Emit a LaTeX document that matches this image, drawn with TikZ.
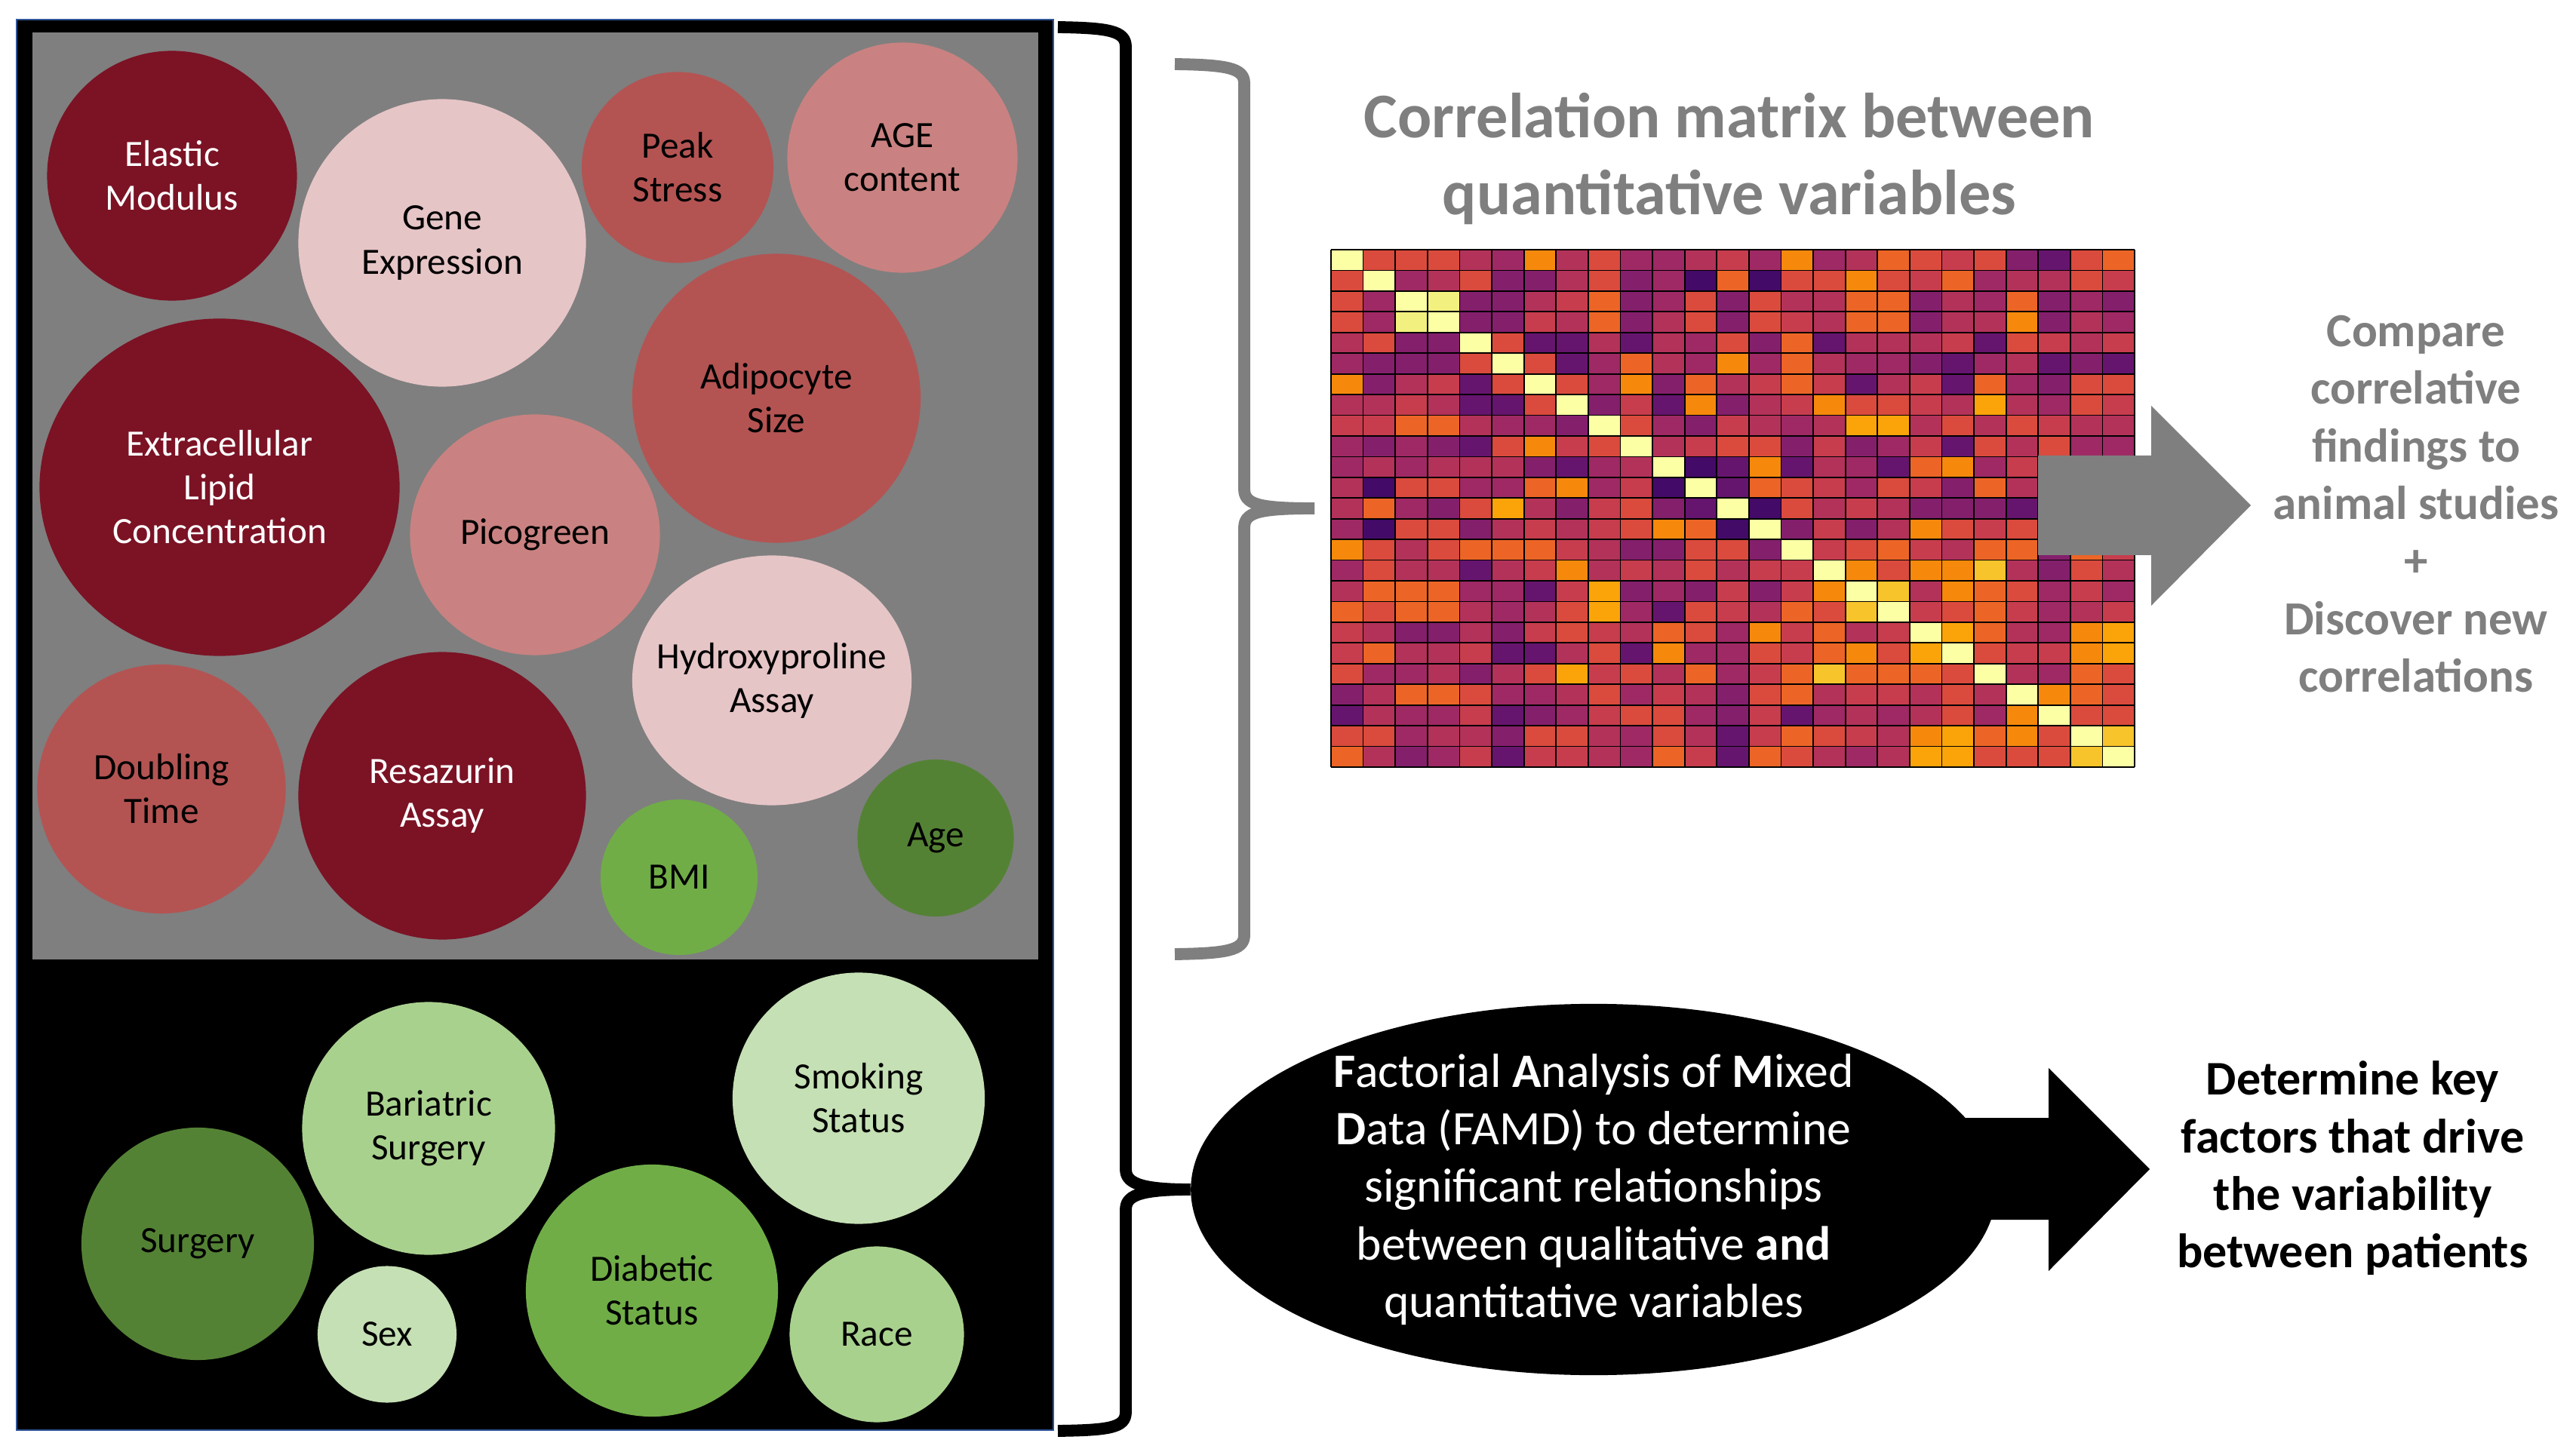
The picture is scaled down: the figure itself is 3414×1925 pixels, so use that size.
\documentclass[tikz,border=0pt]{standalone}
\usepackage{fontspec}
\setmainfont{Carlito}
\definecolor{BordeauxProfond}{HTML}{7B1325}
\definecolor{RoseClair}{HTML}{E6C5C7}
\definecolor{RoseMoyen}{HTML}{C98281}
\definecolor{RougeBrique}{HTML}{B35453}
\definecolor{VertFonce}{HTML}{548235}
\definecolor{VertMoyen}{HTML}{70AD47}
\definecolor{VertClair}{HTML}{A9D18E}
\definecolor{VertPale}{HTML}{C5E0B4}
\definecolor{GrisPanneau}{HTML}{7F7F7F}
\definecolor{BleuBord}{HTML}{2F5597}
% carte de couleurs (type inferno)
\definecolor{CarteY}{HTML}{FCFFA4}
\definecolor{Cartey}{HTML}{F2F07F}
\definecolor{Carteg}{HTML}{F8C42B}
\definecolor{Cartea}{HTML}{FBA40A}
\definecolor{Carteo}{HTML}{F6890C}
\definecolor{Carted}{HTML}{EC6526}
\definecolor{Cartee}{HTML}{DA4B3D}
\definecolor{Carter}{HTML}{C73D4D}
\definecolor{Cartec}{HTML}{B3325A}
\definecolor{Cartem}{HTML}{9E2964}
\definecolor{Cartep}{HTML}{841F6C}
\definecolor{Carteq}{HTML}{66156E}
\definecolor{Cartev}{HTML}{430A68}
\usetikzlibrary{shapes.geometric}
\tikzset{
	bulle/.style={ellipse, inner sep=-0.5cm, align=center, text=black,
		font=\fontsize{14}{16.5}\selectfont},
	bordeaux/.style={bulle, fill=BordeauxProfond, text=white},
	accolade/.style={line width=4.5pt, line join=round},
	titre/.style={align=center, text=GrisPanneau,
		font=\bfseries\fontsize{24}{29}\selectfont},
	texteGris/.style={align=center, text=GrisPanneau,
		font=\bfseries\fontsize{17.9}{21.7}\selectfont},
	texteNoir/.style={align=center, text=black,
		font=\bfseries\fontsize{18.2}{21.7}\selectfont},
	famd/.style={ellipse, fill=black, text=white, inner sep=-0.5cm, align=center,
		font=\fontsize{18.1}{21.7}\selectfont}
}
\begin{document}
\begin{tikzpicture}[x=0.01cm, y=-0.01cm]
    \fill[white] (0,0) rectangle (3414,1925);
    \useasboundingbox (0,0) rectangle (3414,1925);
    
    % Panneau des variables
    \fill[black] (22,26) rectangle (1396,1896);
    \draw[BleuBord, line width=0.8pt] (22,26) rectangle (1396,1896);
    \fill[GrisPanneau] (43,43) rectangle (1376,1272);
    
    % Variables quantitatives
    \node[bordeaux, minimum width=3.31cm, minimum height=3.31cm] (elastic) at (228,233) {Elastic\\Modulus};
    \node[bulle, fill=RoseClair, minimum width=3.81cm, minimum height=3.81cm] (gene) at (586,322) {Gene\\Expression};
    \node[bulle, fill=RougeBrique, minimum width=2.54cm, minimum height=2.53cm] (peak) at (898,222) {Peak\\Stress};
    \node[bulle, fill=RoseMoyen, minimum width=3.05cm, minimum height=3.05cm] (agecontent) at (1196,209) {AGE\\content};
    \node[bordeaux, minimum width=4.77cm, minimum height=4.47cm] (lipid) at (291,646) {Extracellular\\Lipid\\Concentration};
    \node[bulle, fill=RoseMoyen, minimum width=3.31cm, minimum height=3.19cm] (pico) at (709,709) {Picogreen};
    \node[bulle, fill=RougeBrique, minimum width=3.82cm, minimum height=3.83cm] (adipo) at (1029,528) {Adipocyte\\Size};
    \node[bulle, fill=RoseClair, minimum width=3.70cm, minimum height=3.31cm] (hydroxy) at (1023,902) {Hydroxyproline\\Assay};
    \node[bulle, fill=RougeBrique, minimum width=3.29cm, minimum height=3.30cm] (doubling) at (214,1046) {Doubling\\Time};
    \node[bordeaux, minimum width=3.81cm, minimum height=3.81cm] (resazurin) at (586,1055) {Resazurin\\Assay};
    \node[bulle, fill=VertMoyen, minimum width=2.08cm, minimum height=2.06cm] (bmi) at (900,1163) {BMI};
    \node[bulle, fill=VertFonce, minimum width=2.07cm, minimum height=2.08cm] (age) at (1240,1111) {Age};
    
    % Variables qualitatives
    \node[bulle, fill=VertFonce, minimum width=3.08cm, minimum height=3.08cm] (surgery) at (262,1649) {Surgery};
    \node[bulle, fill=VertClair, minimum width=3.35cm, minimum height=3.35cm] (bariatric) at (568,1496) {Bariatric\\Surgery};
    \node[bulle, fill=VertPale, minimum width=3.34cm, minimum height=3.33cm] (smoking) at (1138,1456) {Smoking\\Status};
    \node[bulle, fill=VertPale, minimum width=1.84cm, minimum height=1.81cm] (sex) at (513,1769) {Sex};
    \node[bulle, fill=VertMoyen, minimum width=3.34cm, minimum height=3.34cm] (diabetic) at (864,1711) {Diabetic\\Status};
    \node[bulle, fill=VertClair, minimum width=2.31cm, minimum height=2.33cm] (race) at (1162,1769) {Race};
    
    % Matrice de correlation
    \def\mx{1764}
    \def\my{331}
    \def\cw{42.6}
    \def\ch{27.44}
    \foreach \ligne [count=\i from 0] in {
        {Y,e,e,e,c,m,o,c,e,m,m,c,r,m,o,m,c,d,e,r,e,p,q,e,d},
        {e,Y,m,c,e,p,p,c,e,p,m,v,d,v,e,e,o,e,r,d,m,c,c,e,r},
        {e,m,Y,y,p,p,c,r,d,p,m,e,p,e,c,c,d,d,p,c,m,d,p,m,p},
        {e,m,y,Y,p,p,r,c,d,p,c,e,p,e,r,c,d,d,p,c,c,o,p,c,m},
        {c,e,p,p,Y,e,q,q,c,q,c,m,e,p,d,q,c,c,c,r,q,e,r,c,r},
        {m,p,p,p,e,Y,e,q,m,d,c,m,o,m,d,c,m,m,p,q,m,c,q,p,q},
        {o,p,c,r,q,e,Y,e,m,o,p,d,c,r,d,r,q,c,r,q,d,m,p,e,e},
        {c,c,r,c,q,q,e,Y,p,r,q,o,p,c,r,o,e,e,r,c,a,c,m,e,r},
        {r,r,d,d,c,m,m,p,Y,e,m,p,r,c,m,c,a,a,c,e,c,e,r,c,c},
        {m,p,m,p,q,e,o,r,e,Y,c,r,e,e,p,r,p,m,r,q,e,c,e,m,m},
        {m,c,m,c,c,c,p,q,m,c,Y,v,q,o,q,c,m,q,d,o,m,r,e,e,d},
        {c,v,e,e,m,m,d,o,m,r,v,Y,q,d,e,r,m,e,r,p,d,c,m,c,r},
        {c,d,m,p,e,a,c,p,r,e,p,q,Y,v,e,c,r,c,p,p,p,q,p,q,q},
        {m,v,e,e,p,c,r,c,r,e,o,d,v,Y,p,r,p,c,o,e,r,e,r,r,d},
        {o,e,c,e,d,d,d,r,c,p,p,e,e,p,Y,r,e,d,r,c,d,d,p,d,r},
        {m,e,c,c,q,c,r,o,c,r,c,e,c,r,r,Y,o,e,o,o,g,c,p,e,c},
        {c,d,d,d,m,m,q,r,a,p,m,p,r,p,r,o,Y,g,c,o,d,e,m,r,m},
        {d,e,d,d,c,m,c,e,a,m,q,e,r,c,d,e,g,Y,r,e,d,r,m,c,r},
        {r,c,p,p,c,p,r,e,r,c,d,e,m,o,r,d,c,r,Y,a,d,c,m,o,a},
        {r,d,c,c,r,q,q,c,e,q,o,m,m,e,r,d,o,e,a,Y,e,r,r,o,a},
        {e,m,m,c,p,c,e,a,r,e,c,d,m,r,d,g,d,d,d,e,Y,c,m,d,e},
        {p,c,d,d,e,m,m,c,e,m,r,c,p,e,d,c,r,r,c,e,c,Y,o,d,e},
        {q,c,m,m,r,q,p,m,r,e,e,m,p,r,q,m,c,m,c,e,m,o,Y,e,e},
        {e,e,m,c,c,p,e,e,c,m,e,c,q,r,d,e,r,c,o,a,d,o,e,Y,g},
        {d,c,p,m,r,q,r,r,c,m,d,r,q,d,e,c,m,c,a,a,e,e,e,g,Y}} {
        \foreach \c [count=\j from 0] in \ligne {
            \fill[Carte\c] (\mx+\j*\cw,\my+\i*\ch) rectangle ++(\cw,\ch);
        }
    }
    \foreach \k in {0,...,25} {
        \draw[line width=0.5pt] (\mx+\k*\cw,\my) -- ++(0,25*\ch);
        \draw[line width=0.5pt] (\mx,\my+\k*\ch) -- ++(25*\cw,0);
    }
    \coordinate (matG) at (1742,674);
    
    \node[titre] (titre) at (2292,210) {Correlation matrix between\\quantitative variables};
    
    % Fleche grise
    \fill[GrisPanneau] (2701,604) -- (2851,604) -- (2851,538) -- (2983,670) -- (2851,803) -- (2851,736) -- (2701,736) -- cycle;
    \node[texteGris] (comparer) at (3202,668) {Compare\\correlative\\findings to\\animal studies\\+\\Discover new\\correlations};
    
    % Accolade grise
    \coordinate (accHautG) at (1557,85);
    \coordinate (accBasG) at (1557,1265);
    \draw[accolade, GrisPanneau] (accHautG) .. controls (1625,86) and (1649,90) .. (1649,110) -- (1649,648) .. controls (1649,668) and (1665,674) .. (matG);
    \draw[accolade, GrisPanneau] (accBasG) .. controls (1625,1264) and (1649,1260) .. (1649,1240) -- (1649,700) .. controls (1649,680) and (1665,674) .. (matG);
    
    % Analyse FAMD
    \node[famd, minimum width=10.67cm, minimum height=4.92cm] (famd) at (2112,1577) {\textbf{F}actorial \textbf{A}nalysis of \textbf{M}ixed\\\textbf{D}ata (FAMD) to determine\\significant relationships\\between qualitative \textbf{and}\\quantitative variables};
    \fill[black] (2600,1482) -- (2715,1482) -- (2715,1416) -- (2849,1550) -- (2715,1685) -- (2715,1617) -- (2600,1617) -- cycle;
    \node[texteNoir] (cles) at (3118,1549) {Determine key\\factors that drive\\the variability\\between patients};
    
    % Accolade noire
    \coordinate (accHautN) at (1402,36);
    \coordinate (accBasN) at (1402,1897);
    \draw[accolade] (accHautN) .. controls (1470,37) and (1492,41) .. (1492,62) -- (1492,1550) .. controls (1492,1567) and (1507,1577) .. (famd.west);
    \draw[accolade] (accBasN) .. controls (1470,1896) and (1492,1893) .. (1492,1872) -- (1492,1604) .. controls (1492,1586) and (1507,1577) .. (famd.west);
\end{tikzpicture}
\end{document}
